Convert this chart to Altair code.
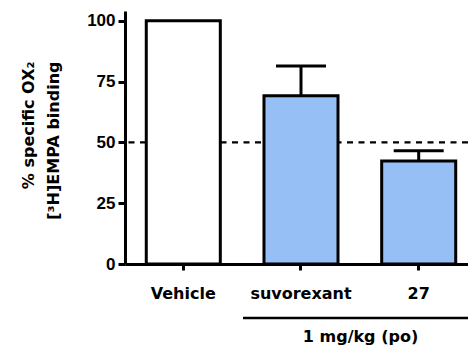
import altair as alt
import pandas as pd

categories = ["Vehicle", "suvorexant", "27"]
means = [100.0, 69.2, 42.3]
sems = [0.0, 12.2, 4.3]
fills = ["#FFFFFF", "#95BFF5", "#95BFF5"]
ref_level = [50]
y_ticks = [0, 25, 50, 75, 100]
y_title = ["% specific OX\u2082", "[\u00b3H]EMPA binding"]
x_title = "1 mg/kg (po)"

df = pd.DataFrame({"cat": categories, "mean": means, "sem": sems, "fill": fills})
df["upper"] = df["mean"] + df["sem"]
err_df = df[df["sem"] > 0].reset_index(drop=True)
ref_df = pd.DataFrame({"level": ref_level})
bracket_df = pd.DataFrame({"label": [x_title]})

xs = alt.Scale(domain=categories, paddingInner=0.371, paddingOuter=0.1425, align=0.634)
ys = alt.Scale(domain=[0, 104], nice=False)

xaxis = alt.Axis(
    title=x_title, titleFont="DejaVu Sans", titleFontSize=16, titleFontWeight="bold",
    titleColor="black", titleX=235, titleY=77, titleAlign="center", titleBaseline="alphabetic",
    labelFont="DejaVu Sans", labelFontSize=16, labelFontWeight="bold", labelColor="black",
    labelAngle=0, labelPadding=15, tickSize=6, tickWidth=3, tickColor="black",
    domainColor="black", domainWidth=3, grid=False,
)
yaxis = alt.Axis(
    values=y_ticks, title=y_title, titleFont="DejaVu Sans", titleFontSize=16,
    titleFontWeight="bold", titleColor="black", titleLineHeight=25, titleAngle=270,
    titleX=-92, titleY=50, titleAlign="right", titleBaseline="alphabetic",
    labelFont="Liberation Sans", labelFontSize=17, labelFontWeight="bold", labelColor="black",
    labelPadding=3, tickSize=7, tickWidth=3, tickColor="black",
    domainColor="black", domainWidth=3, grid=False,
)

x_enc = alt.X("cat:N", scale=xs, sort=categories, axis=xaxis)

rule = alt.Chart(ref_df).mark_rule(strokeDash=[6, 5.5], strokeWidth=2.3, color="black").encode(
    y=alt.Y("level:Q", scale=ys, axis=yaxis)
)
bars = alt.Chart(df).mark_bar(stroke="black", strokeWidth=3).encode(
    x=x_enc,
    y=alt.Y("mean:Q", scale=ys, axis=yaxis),
    fill=alt.Fill("fill:N", scale=None),
)
stems = alt.Chart(err_df).mark_rule(strokeWidth=3, color="black").encode(
    x=x_enc,
    y=alt.Y("mean:Q", scale=ys, axis=yaxis),
    y2="upper:Q",
)
caps = alt.Chart(err_df).mark_tick(thickness=3, size=50, color="black", opacity=1, orient="horizontal").encode(
    x=x_enc,
    y=alt.Y("upper:Q", scale=ys, axis=yaxis),
)
bracket = alt.Chart(bracket_df).mark_rule(strokeWidth=2.5, color="black").encode(
    x=alt.value(118), x2=alt.value(343), y=alt.value(307)
)

chart = alt.layer(rule, bars, stems, caps, bracket).properties(
    width=343, height=253,
    autosize=alt.AutoSizeParams(type="none"),
    padding={"left": 117, "top": 3, "right": 0, "bottom": 82},
).configure_view(stroke=None)

chart.save("out.html", embed_options={"renderer": "svg", "actions": False})
